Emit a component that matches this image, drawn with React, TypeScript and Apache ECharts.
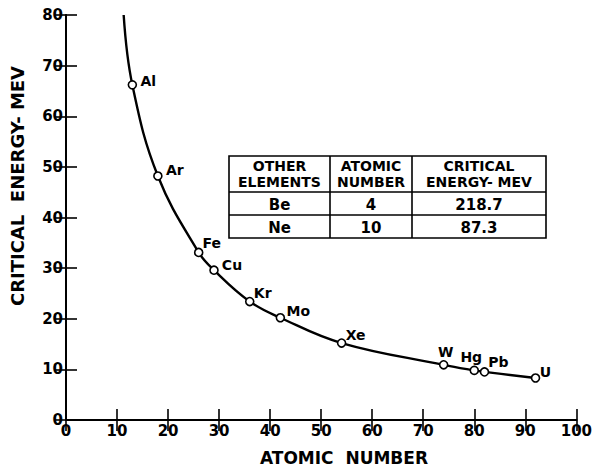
import React, { useEffect, useRef } from "react";
import * as echarts from "echarts";

const elements = ["Al", "Ar", "Fe", "Cu", "Kr", "Mo", "Xe", "W", "Hg", "Pb", "U"];
const atomicNumbers = [13, 18, 26, 29, 36, 42, 54, 74, 80, 82, 92];
const criticalEnergy = [66.2, 48.2, 33.1, 29.6, 23.4, 20.2, 15.2, 10.9, 9.8, 9.5, 8.3];
// where the drawn curve leaves the top of the frame
const curveStart = [11.3, 80];

const xTicks = [0, 10, 20, 30, 40, 50, 60, 70, 80, 90, 100];
const yTicks = [0, 10, 20, 30, 40, 50, 60, 70, 80];

const tableHeader = [
  ["OTHER", "ELEMENTS"],
  ["ATOMIC", "NUMBER"],
  ["CRITICAL", "ENERGY- MEV"],
];
const otherElements = ["Be", "Ne"];
const otherAtomic = ["4", "10"];
const otherEnergy = ["218.7", "87.3"];

const xTitle = "ATOMIC  NUMBER";
const yTitle = "CRITICAL  ENERGY- MEV";

// label offsets (styling only)
const labelOffsets: Record<string, number[]> = {
  Al: [16, -4],
  Ar: [17, -6],
  Fe: [13, -9],
  Cu: [18, -5],
  Kr: [13, -9],
  Mo: [18, -7],
  Xe: [14, -8],
  W: [2, -13],
  Hg: [-3, -13],
  Pb: [14, -10],
  U: [10, -6],
};

const FONT = "DejaVu Sans";

export default function App() {
  const ref = useRef<HTMLDivElement>(null);
  useEffect(() => {
    if (!ref.current) return;
    const chart = echarts.init(ref.current, undefined, { renderer: "svg" });

    const colX = [229, 330, 412, 546];
    const rowY = [156, 192, 215, 238];
    const tableG: any[] = [];
    tableG.push({
      type: "rect",
      shape: { x: colX[0], y: rowY[0], width: colX[3] - colX[0], height: rowY[3] - rowY[0] },
      style: { fill: "#fff", stroke: "#000", lineWidth: 1.6 },
      z: 10,
    });
    for (let i = 1; i < 3; i++) {
      tableG.push({
        type: "line",
        shape: { x1: colX[i], y1: rowY[0], x2: colX[i], y2: rowY[3] },
        style: { stroke: "#000", lineWidth: 1.6 },
        z: 11,
      });
      tableG.push({
        type: "line",
        shape: { x1: colX[0], y1: rowY[i], x2: colX[3], y2: rowY[i] },
        style: { stroke: "#000", lineWidth: 1.6 },
        z: 11,
      });
    }
    const cols = [otherElements, otherAtomic, otherEnergy];
    for (let c = 0; c < 3; c++) {
      const cx = (colX[c] + colX[c + 1]) / 2;
      tableHeader[c].forEach((line, li) => {
        tableG.push({
          type: "text",
          x: cx,
          y: rowY[0] + 9.5 + li * 16.8,
          style: {
            text: line,
            fill: "#000",
            font: `bold 14px "${FONT}"`,
            align: "center",
            verticalAlign: "middle",
          },
          z: 12,
        });
      });
      for (let r = 0; r < 2; r++) {
        tableG.push({
          type: "text",
          x: cx,
          y: (rowY[r + 1] + rowY[r + 2]) / 2 + 1,
          style: {
            text: cols[c][r],
            fill: "#000",
            font: `bold 15px "${FONT}"`,
            align: "center",
            verticalAlign: "middle",
          },
          z: 12,
        });
      }
    }

    const pts = atomicNumbers.map((x, i) => ({
      value: [x, criticalEnergy[i]],
      name: elements[i],
      label: { offset: labelOffsets[elements[i]] },
    }));

    const axisCommon = {
      axisLine: { lineStyle: { color: "#000", width: 2 } },
      axisTick: { inside: true, length: 11, lineStyle: { color: "#000", width: 1.6 } },
      splitLine: { show: false },
    };
    const labelCommon = {
      color: "#000",
      fontFamily: FONT,
      fontWeight: "bold",
      fontSize: 15,
      margin: 3,
    };

    chart.setOption({
      animation: false,
      backgroundColor: "#fff",
      grid: { left: 66, right: 18, top: 15, bottom: 52 },
      xAxis: [
        {
          type: "value",
          min: 0,
          max: 100,
          interval: 10,
          ...axisCommon,
          axisLabel: { ...labelCommon, customValues: xTicks },
        },
        {
          type: "value",
          position: "top",
          min: 0,
          max: 100,
          interval: 10,
          ...axisCommon,
          axisLabel: { show: false },
        },
      ],
      yAxis: [
        {
          type: "value",
          min: 0,
          max: 80,
          interval: 10,
          ...axisCommon,
          axisLabel: { ...labelCommon, customValues: yTicks },
        },
        {
          type: "value",
          position: "right",
          min: 0,
          max: 80,
          interval: 10,
          ...axisCommon,
          axisLabel: { show: false },
        },
      ],
      series: [
        {
          type: "line",
          data: [curveStart, ...atomicNumbers.map((x, i) => [x, criticalEnergy[i]])],
          smooth: 0.4,
          symbol: "none",
          lineStyle: { color: "#000", width: 2.4 },
          z: 2,
          silent: true,
        },
        {
          type: "scatter",
          data: pts,
          symbol: "circle",
          symbolSize: 8,
          itemStyle: { color: "#fff", borderColor: "#000", borderWidth: 1.6, opacity: 1 },
          label: {
            show: true,
            position: "inside",
            formatter: "{b}",
            color: "#000",
            textBorderWidth: 0,
            fontFamily: FONT,
            fontWeight: "bold",
            fontSize: 14,
            align: "center",
            verticalAlign: "middle",
          },
          z: 5,
        },
      ],
      graphic: [
        ...tableG,
        {
          type: "text",
          x: 344,
          y: 458,
          style: {
            text: xTitle,
            fill: "#000",
            font: `bold 17px "${FONT}"`,
            align: "center",
            verticalAlign: "middle",
          },
        },
        {
          type: "text",
          x: 17,
          y: 186,
          rotation: Math.PI / 2,
          style: {
            text: yTitle,
            fill: "#000",
            font: `bold 18px "${FONT}"`,
            align: "center",
            verticalAlign: "middle",
          },
        },
      ],
    });
    return () => chart.dispose();
  }, []);
  return (
    <div
      ref={ref}
      style={{ position: "absolute", left: 0, top: 0, width: 595, height: 472, background: "#fff" }}
    />
  );
}
